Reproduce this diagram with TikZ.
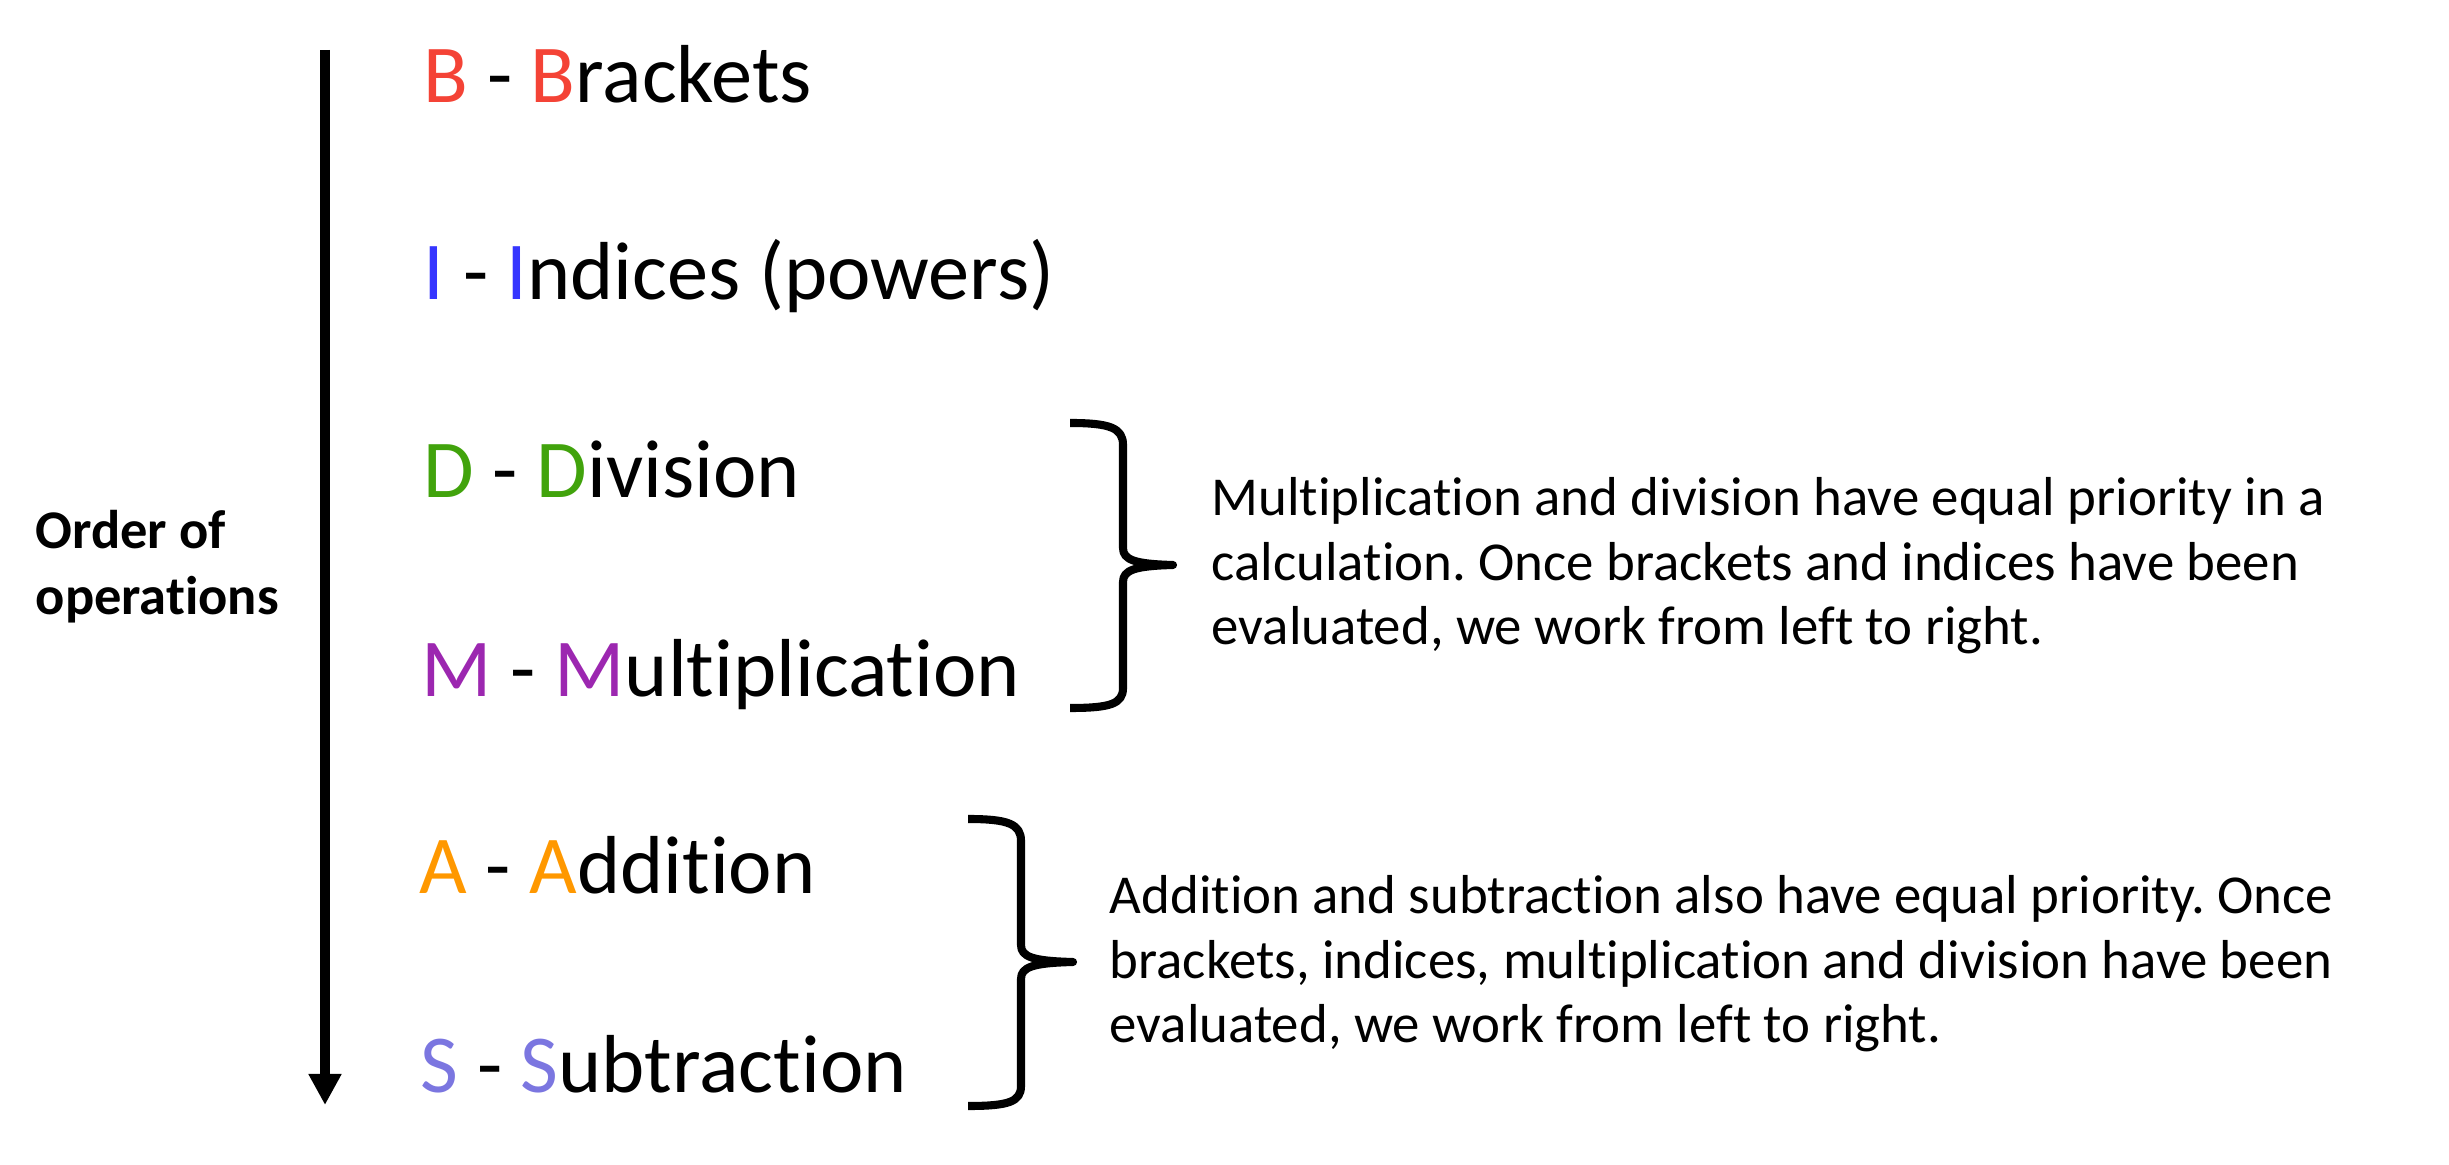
\documentclass[tikz,border=0pt]{standalone}
\usepackage{fontspec}
\setmainfont{Carlito}[RawFeature=-liga]
\usepackage{xcolor}
\usepackage{tikz}
\usetikzlibrary{arrows.meta}
\definecolor{cB}{HTML}{F44336}
\definecolor{cI}{HTML}{3636FF}
\definecolor{cD}{HTML}{41A30C}
\definecolor{cM}{HTML}{9C27B0}
\definecolor{cA}{HTML}{FF9800}
\definecolor{cS}{HTML}{7B76E0}
\frenchspacing
\tikzset{
  arr/.style={draw=black, line width=2.6pt, -{Triangle[length=0.31cm,width=0.31cm]}},
  brace/.style={draw=black, line width=2.3pt, line join=round},
  item/.style={anchor=base west, inner sep=0pt, font=\fontsize{23.4}{28}\selectfont},
  note/.style={anchor=base west, inner sep=0pt, align=left, font=\fontsize{15.6}{18.4}\selectfont},
  side/.style={anchor=base west, inner sep=0pt, align=left, font=\fontsize{15.5}{18.8}\selectfont\bfseries},
}

\begin{document}
\begin{tikzpicture}[x=0.01cm, y=-0.01cm]
  \useasboundingbox (0,0) rectangle (2449,1165);
  % arrow down the left side
  \coordinate (P) at (325,50);
  \coordinate (Q) at (325,1105);
  \draw[arr] (P) -- (Q);
  \node[side] (order) at (35,615) {Order of\\operations};
  % the six steps
  \node[item] (B) at (423,103)  {{\color{cB}B} - {\color{cB}B}rackets};
  \node[item] (I) at (423,300)  {{\color{cI}I} - {\color{cI}I}ndices (powers)};
  \node[item] (D) at (423,498)  {{\color{cD}D} - {\color{cD}D}ivision};
  \node[item] (M) at (421,697)  {{\color{cM}M} - {\color{cM}M}ultiplication};
  \node[item] (A) at (419,894)  {{\color{cA}A} - {\color{cA}A}ddition};
  \node[item] (S) at (420,1093) {{\color{cS}S} - {\color{cS}S}ubtraction};
  % braces
  \draw[brace] (1070,423) .. controls (1110,423) and (1123,428) .. (1123,445)
    -- (1123,548) .. controls (1123,560) and (1135,564) .. (1173,565)
    .. controls (1135,566) and (1123,570) .. (1123,582)
    -- (1123,688) .. controls (1123,704) and (1110,708) .. (1070,708);
  \draw[brace] (968,819) .. controls (1008,819) and (1021,824) .. (1021,841)
    -- (1021,945) .. controls (1021,957) and (1033,961) .. (1073,962)
    .. controls (1033,963) and (1021,967) .. (1021,979)
    -- (1021,1086) .. controls (1021,1102) and (1008,1106) .. (968,1106);
  % notes
  \node[note] (N1) at (1211,645) {Multiplication and division have equal priority in a\\
    calculation. Once brackets and indices have been\\
    evaluated, we work from left to right.};
  \node[note] (N2) at (1109,1043) {Addition and subtraction also have equal priority. Once\\
    brackets, indices, multiplication and division have been\\
    evaluated, we work from left to right.};
\end{tikzpicture}
\end{document}
